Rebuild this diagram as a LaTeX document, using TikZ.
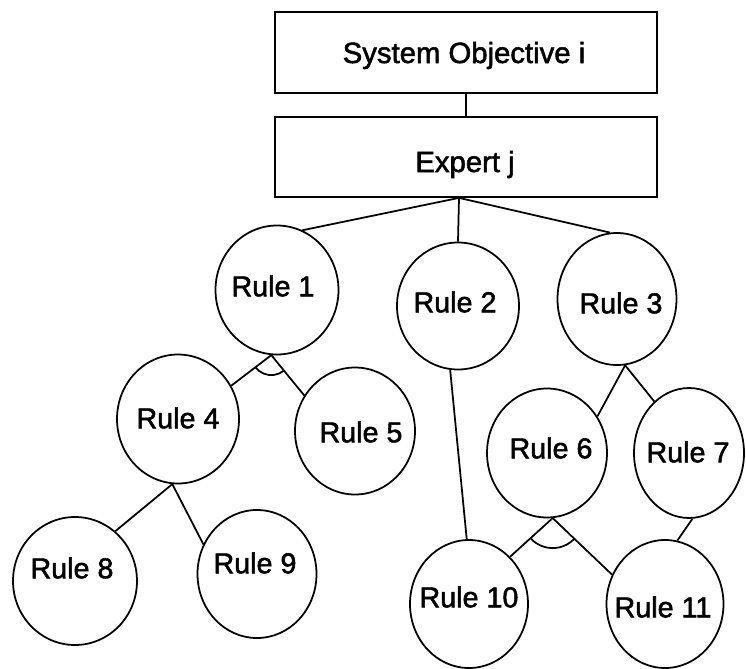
\documentclass[tikz,border=0pt]{standalone}
\usepackage{fontspec}
\setmainfont[FakeBold=1.8]{Liberation Sans}
\usetikzlibrary{shapes.geometric,calc}
\begin{document}
\begin{tikzpicture}[x=0.3mm, y=0.3mm, line width=1.5pt,
  boxnode/.style={draw, rectangle, inner sep=0pt, minimum width=114.6mm},
  boxtext/.style={inner sep=0pt, anchor=base, font=\fontsize{25}{30}\selectfont},
  rulenode/.style 2 args={draw, ellipse, inner sep=0pt, minimum width=#1, minimum height=#2},
  ruletext/.style={inner sep=0pt, font=\fontsize{24.5}{29}\selectfont},
  link/.style={draw, line width=1.5pt}]
\useasboundingbox (0,0) rectangle (746,-668);

% objective and expert boxes
\node[boxnode, minimum height=24.3mm] (sys) at (466,-52.5) {};
\node[boxnode, minimum height=24mm] (exp) at (466,-157) {};
\node[boxtext] (systxt) at (464,-63) {System Objective i};
\node[boxtext] (exptxt) at (465,-172) {Expert j};
\coordinate (ej) at ($(exp.south)+(-7,0)$);

% rule nodes
\node[rulenode={36.9mm}{38.7mm}] (r1) at (277,-290) {};
\node[rulenode={36.6mm}{38.1mm}] (r2) at (458,-306) {};
\node[rulenode={35.7mm}{39.6mm}] (r3) at (617,-299) {};
\node[rulenode={36.6mm}{38.7mm}] (r4) at (178,-419) {};
\node[rulenode={36mm}{38.1mm}] (r5) at (355,-431) {};
\node[rulenode={36mm}{38.7mm}] (r6) at (547,-453) {};
\node[rulenode={33mm}{39mm}] (r7) at (689,-453) {};
\node[rulenode={37.2mm}{38.4mm}] (r8) at (75,-581) {};
\node[rulenode={35.7mm}{38.4mm}] (r9) at (257,-574) {};
\node[rulenode={35.4mm}{38.4mm}] (r10) at (469,-604) {};
\node[rulenode={35.1mm}{38.4mm}] (r11) at (665,-604) {};

% rule labels
\node[ruletext] (t1) at (273,-286) {Rule 1};
\node[ruletext] (t2) at (455,-302) {Rule 2};
\node[ruletext] (t3) at (621,-303) {Rule 3};
\node[ruletext] (t4) at (178,-418) {Rule 4};
\node[ruletext] (t5) at (361,-432) {Rule 5};
\node[ruletext] (t6) at (551,-448) {Rule 6};
\node[ruletext] (t7) at (688,-452) {Rule 7};
\node[ruletext] (t8) at (72,-568) {Rule 8};
\node[ruletext] (t9) at (255,-563) {Rule 9};
\node[ruletext] (t10) at (469,-597) {Rule 10};
\node[ruletext] (t11) at (663,-607) {Rule 11};

% connectors
\draw[link] (sys.south) -- (exp.north);
\draw[link] (ej) -- (r1.67);
\draw[link] (ej) -- (r2.north);
\draw[link] (ej) -- (r3.96);
\draw[link] (r1.-95) -- (r4.32);
\draw[link] (r1.-95) -- (r5.145);
\draw[link] (r4.-95) -- (r8.51);
\draw[link] (r4.-95) -- (r9.151);
\draw[link] (r2.-97) -- (r10.92);
\draw[link] (r3.-83) -- (r6.36);
\draw[link] (r3.-83) -- (r7.124);
\draw[link] (r6.-85) -- (r10.49);
\draw[link] (r6.-85) -- (r11.151);
\draw[link] (r7.-87) -- (r11.79);

% AND arcs joining sibling branches
\draw[link] let \p0=(r1.-95), \p1=(r4.32), \p2=(r5.145),
  \n1={atan2(\y1-\y0,\x1-\x0)}, \n2={atan2(\y2-\y0,\x2-\x0)} in
  ($(\p0)+(\n1:6mm)$) arc[start angle=\n1, end angle=\n2, radius=6mm];
\draw[link] let \p0=(r6.-85), \p1=(r10.49), \p2=(r11.151),
  \n1={atan2(\y1-\y0,\x1-\x0)}, \n2={atan2(\y2-\y0,\x2-\x0)} in
  ($(\p0)+(\n1:9mm)$) arc[start angle=\n1, end angle=\n2, radius=9mm];
\end{tikzpicture}
\end{document}
